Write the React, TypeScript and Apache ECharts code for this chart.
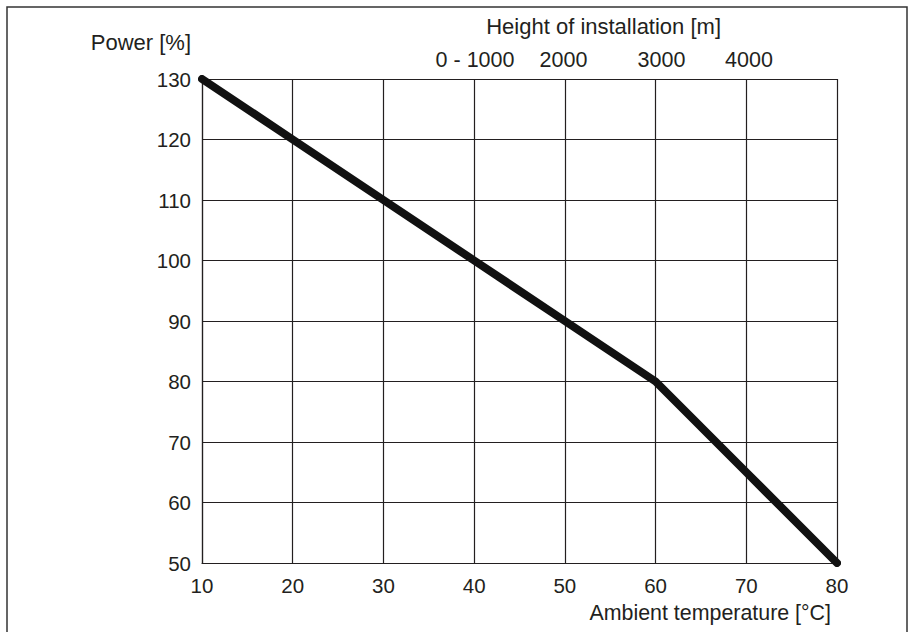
import React, { useEffect, useRef } from "react";
import * as echarts from "echarts";

const temperatures = [10, 20, 30, 40, 50, 60, 70, 80];
const powerPercent = [130, 120, 110, 100, 90, 80, 65, 50];
const heightLabels = ["0 - 1000", "2000", "3000", "4000"];
const heightPositions = [40.1, 49.85, 60.65, 70.3];

const FONT = "'Liberation Sans', Arial, Helvetica, sans-serif";
const INK = "#231f20";

export default function App() {
  const ref = useRef<HTMLDivElement>(null);
  useEffect(() => {
    if (!ref.current) return;
    const chart = echarts.init(ref.current, undefined, { renderer: "svg" });
    const tickText = { fontFamily: FONT, fontSize: 20.5, color: INK };
    const nameText = { fontFamily: FONT, fontSize: 22, color: INK };
    chart.setOption({
      animation: false,
      backgroundColor: "#ffffff",
      textStyle: { fontFamily: FONT },
      graphic: [
        {
          type: "rect",
          shape: { x: 7, y: 7, width: 900, height: 640 },
          style: { fill: "none", stroke: "#333", lineWidth: 1.5 },
          silent: true,
        },
      ],
      grid: { left: 202, right: 80, top: 79, bottom: 69, containLabel: false },
      xAxis: [
        {
          type: "value",
          position: "bottom",
          min: 10,
          max: 80,
          interval: 10,
          axisLine: { show: true, lineStyle: { color: INK, width: 1.2 } },
          axisTick: { show: false },
          axisLabel: { ...tickText, margin: 12 },
          splitLine: { show: true, lineStyle: { color: INK, width: 1.2 } },
          name: "Ambient temperature [°C]",
          nameLocation: "end",
          nameGap: 0,
          nameTextStyle: { ...nameText, fontSize: 21.4, align: "right", verticalAlign: "top", padding: [39, 6, 0, 0] },
        },
        {
          type: "value",
          position: "top",
          min: 10,
          max: 80,
          axisLine: { show: true, lineStyle: { color: INK, width: 1.2 } },
          axisTick: { show: false },
          splitLine: { show: false },
          axisLabel: {
            ...tickText,
            fontSize: 21.5,
            margin: 8,
            customValues: heightPositions,
            formatter: (v: number) => {
              const i = heightPositions.findIndex((p) => Math.abs(p - v) < 1e-6);
              return i >= 0 ? heightLabels[i] : "";
            },
          },
          name: "Height of installation [m]",
          nameLocation: "end",
          nameGap: 0,
          nameTextStyle: { ...nameText, align: "right", verticalAlign: "bottom", padding: [0, 116, 42, 0] },
        },
      ],
      yAxis: {
        type: "value",
        min: 50,
        max: 130,
        interval: 10,
        axisLine: { show: true, lineStyle: { color: INK, width: 1.2 } },
        axisTick: { show: false },
        axisLabel: { ...tickText, margin: 11 },
        splitLine: { show: true, lineStyle: { color: INK, width: 1.2 } },
        name: "Power [%]",
        nameLocation: "end",
        nameGap: 37,
        nameTextStyle: { ...nameText, align: "right", verticalAlign: "middle", padding: [0, 11, 0, 0] },
      },
      series: [
        {
          type: "line",
          xAxisIndex: 0,
          data: temperatures.map((t, i) => [t, powerPercent[i]]),
          showSymbol: false,
          symbol: "none",
          lineStyle: { color: "#111", width: 8, join: "round", cap: "round" },
          silent: true,
        },
      ],
    });
    return () => chart.dispose();
  }, []);
  return (
    <div
      ref={ref}
      style={{ position: "fixed", left: 0, top: 0, width: 917, height: 632, background: "#fff" }}
    />
  );
}
